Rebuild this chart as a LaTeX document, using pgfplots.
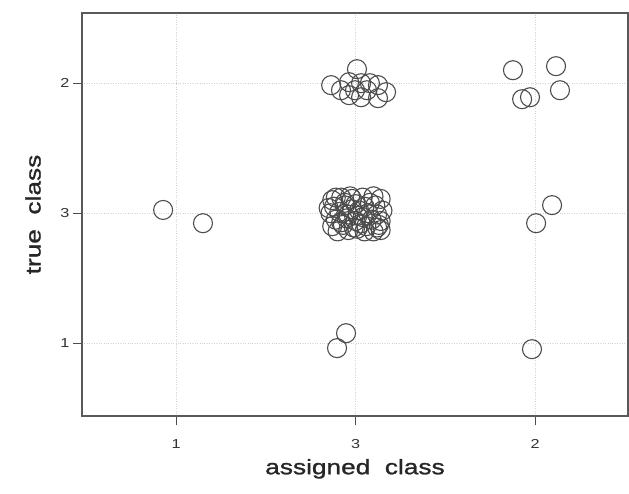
\documentclass[border=0pt]{standalone}
\usepackage{pgfplots}
\pgfplotsset{compat=1.18}
\usepackage{fontspec}
\setmainfont{Liberation Sans}
\newfontfamily\labfont[FakeStretch=1.25]{Liberation Sans}
\newfontfamily\bigfont[FakeStretch=1.25,FakeBold=1.2]{Liberation Sans}
\begin{document}
\begin{tikzpicture}[x=1pt,y=1pt]
\useasboundingbox (0,0) rectangle (629,493);
\begin{axis}[at={(82pt,77pt)}, anchor=south west, scale only axis,
  width=546pt, height=403pt,
  xmin=-0.524, xmax=2.518, ymin=-0.56, ymax=2.54,
  xtick={0,1,2}, xticklabels={1,3,2},
  ytick={0,1,2}, yticklabels={1,3,2},
  tick pos=left,
  tick align=outside, major tick length=9pt,
  tick style={gray!60!black, line width=1pt},
  axis line style={gray!70!black, line width=1.5pt},
  grid=major, grid style={dotted, gray!35, line width=1pt},
  ticklabel style={font=\labfont\fontsize{13}{15}\selectfont, text=black!80},
  xticklabel style={yshift=-11pt},
  /pgf/number format/assume math mode=true,
  xlabel={assigned\ \ class}, ylabel={true\ \ class},
  label style={font=\bigfont\fontsize{21}{25}\selectfont, text=black!85},
  xlabel style={at={(axis description cs:0.5,-0.131)}, anchor=center},
  ylabel style={at={(axis description cs:-0.0897,0.5)}, anchor=center},
  clip=false]
\addplot[only marks, mark=o, mark size=9.5pt, mark options={draw=black!70, line width=1.1pt}] coordinates {
% assigned 1
(-0.072,1.025) (0.150,0.923)
% assigned 2
(1.877,2.100) (2.117,2.131) (2.139,1.946) (1.928,1.877) (1.972,1.892)
(2.095,1.062) (2.006,0.923)
(1.983,-0.046)
% assigned 3, true 1
(0.947,0.077) (0.897,-0.038)
% assigned 3, true 2
(1.008,2.108) (0.864,1.985) (1.031,2.000) (0.964,2.008) (1.125,1.985)
(1.170,1.931) (1.125,1.885) (1.031,1.892) (0.964,1.908) (0.919,1.946)
(1.064,1.946) (1.080,2.000) (0.997,1.946)
% assigned 3, true 3
(0.87,1.10) (0.92,1.12) (0.98,1.11) (1.04,1.12) (1.10,1.13) (1.14,1.11)
(0.88,1.05) (0.94,1.06) (1.00,1.07) (1.05,1.05) (1.11,1.06)
(0.86,1.00) (0.91,1.01) (0.96,0.99) (1.02,1.02) (1.07,1.00) (1.12,0.99)
(0.89,0.95) (0.95,0.96) (1.00,0.94) (1.04,0.97) (1.09,0.95) (1.14,0.94)
(0.87,0.90) (0.93,0.91) (0.99,0.89) (1.06,0.90) (1.12,0.89)
(0.90,0.86) (0.96,0.87) (1.05,0.86) (1.10,0.86) (1.14,0.87)
(0.98,1.03) (1.01,0.98) (0.94,1.08) (1.08,1.08) (0.92,0.93) (1.03,0.92)
(0.85,1.04) (1.15,1.02) (0.97,1.13) (1.13,0.91) (0.89,1.12) (1.01,0.88)
};
\end{axis}
\end{tikzpicture}
\end{document}
